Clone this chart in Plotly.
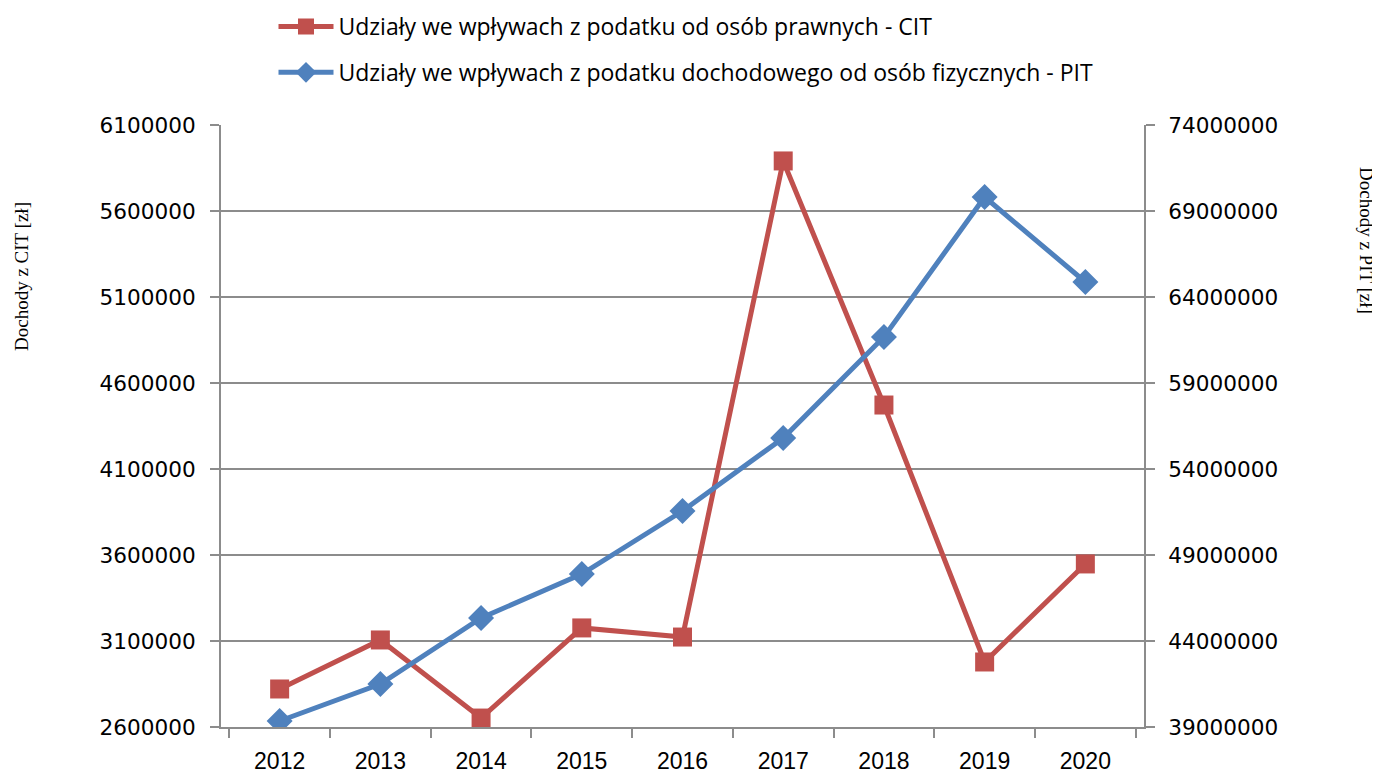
import plotly.graph_objects as go

years = ["2012", "2013", "2014", "2015", "2016", "2017", "2018", "2019", "2020"]
cit = [2821000, 3106000, 2652000, 3176000, 3123000, 5891000, 4472000, 2978000, 3548000]
pit = [39349000, 41500000, 45337000, 47895000, 51558000, 55802000, 61675000, 69814000, 64872000]

cit_name = "Udziały we wpływach z podatku od osób prawnych - CIT"
pit_name = "Udziały we wpływach z podatku dochodowego od osób fizycznych - PIT"

RED = "#C0504D"
BLUE = "#4F81BD"
GRID = "#8C8C8C"

W, H = 1380, 774
ML, MR, MT, MB = 213, 244, 117, 55

fig = go.Figure()
fig.add_trace(go.Scatter(
    x=years, y=cit, name=cit_name, mode="lines+markers",
    line=dict(color=RED, width=5),
    marker=dict(symbol="square", size=19, color=RED),
    yaxis="y", legendgroup="a",
))
fig.add_trace(go.Scatter(
    x=years, y=pit, name=pit_name, mode="lines+markers",
    line=dict(color=BLUE, width=5),
    marker=dict(symbol="diamond", size=20, color=BLUE),
    yaxis="y2", legendgroup="b",
))

tickfont = dict(family="DejaVu Sans, Verdana, sans-serif", size=21.6, color="#000")
titlefont = dict(family="Liberation Serif, Times New Roman, serif", size=19, color="#000")

pw = W - ML - MR
ph = H - MT - MB
def px_to_paper(px, py):
    return (px - ML) / pw, (H - MB - py) / ph

ax, ay = px_to_paper(13, 269)
bx, by = px_to_paper(1359, 232)
lx, ly = px_to_paper(265.5, -3)

fig.update_layout(
    width=W, height=H,
    paper_bgcolor="white", plot_bgcolor="white",
    margin=dict(l=ML, r=MR, t=MT, b=MB, autoexpand=False),
    showlegend=True,
    legend=dict(
        x=lx, y=ly, xref="paper", yref="paper", xanchor="left", yanchor="top",
        font=dict(family="Open Sans, Lato, sans-serif", size=23, color="#000"),
        tracegroupgap=13, itemwidth=55, bgcolor="rgba(0,0,0,0)",
    ),
    xaxis=dict(
        type="category", showgrid=False, showline=True, linecolor=GRID, linewidth=2,
        ticks="outside", ticklen=9, tickcolor=GRID, tickwidth=1.5, tickson="boundaries",
        tickangle=0, ticklabelstandoff=12,
        tickfont=dict(family="Liberation Sans Narrow, Liberation Sans, sans-serif", size=23, color="#000"),
    ),
    yaxis=dict(
        range=[2600000, 6100000], dtick=500000, tick0=2600000,
        showgrid=True, gridcolor=GRID, gridwidth=1.5,
        showline=True, linecolor=GRID, linewidth=2,
        ticks="outside", ticklen=9, tickcolor=GRID, tickwidth=1.5,
        ticklabelstandoff=10,
        tickformat="d", tickfont=tickfont, zeroline=False,
    ),
    yaxis2=dict(
        range=[39000000, 74000000], dtick=5000000, tick0=39000000,
        overlaying="y", side="right", showgrid=False,
        showline=True, linecolor=GRID, linewidth=2,
        ticks="outside", ticklen=9, tickcolor=GRID, tickwidth=1.5,
        ticklabelstandoff=9,
        tickformat="d", tickfont=tickfont, zeroline=False,
    ),
    annotations=[
        dict(text="Dochody z CIT [zł]", x=ax, y=ay, xref="paper", yref="paper",
             xanchor="center", yanchor="middle",
             showarrow=False, textangle=-90, font=titlefont),
        dict(text="Dochody z PIT [zł]", x=bx, y=by, xref="paper", yref="paper",
             xanchor="center", yanchor="middle",
             showarrow=False, textangle=90, font=titlefont),
    ],
)

fig.write_html("out.html")
